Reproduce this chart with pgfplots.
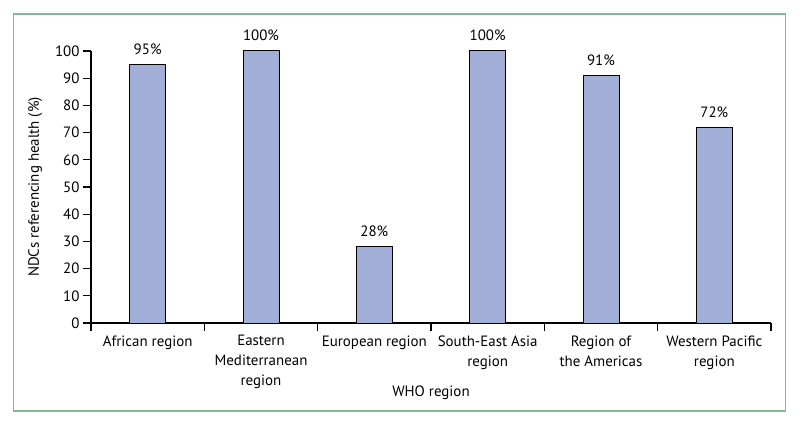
\documentclass[border=0pt]{standalone}
\usepackage{pgfplots}
\pgfplotsset{compat=1.18}
\usepackage{fontspec}
\setmainfont{PT Sans}

\definecolor{framegreen}{HTML}{80B898}
\definecolor{barblue}{HTML}{A0AED8}

\begin{document}
\begin{tikzpicture}[x=1bp,y=1bp]
\path (0,0) rectangle (800,426);
\draw[framegreen, line width=1.5bp] (13.5,15) rectangle (785.5,412);
\begin{axis}[
    at={(91bp,103bp)}, anchor=south west,
    scale only axis,
    width=680bp, height=272bp,
    xmin=0, xmax=6, ymin=0, ymax=100,
    axis x line=bottom, axis y line=left,
    axis line style={-, line width=1.2bp, black},
    clip=false,
    ytick={0,10,...,100},
    xtick={0,1,...,6},
    x tick label as interval,
    tick style={line width=1.2bp, black},
    major tick length=8bp,
    tick align=outside,
    xticklabels={African region,Eastern\\Mediterranean\\region,European region,South-East Asia\\region,Region of\\the Americas,Western Pacific\\region},
    tick label style={font=\fontsize{15}{20}\selectfont},
    xticklabel style={align=center, yshift=-1bp},
    /pgf/number format/assume math mode=true,
    label style={font=\fontsize{15}{20}\selectfont},
    ylabel={NDCs referencing health (\%)},
    ylabel style={at={(axis description cs:-0.082,0.5)}, anchor=center},
    xlabel={WHO region},
    xlabel style={at={(axis description cs:0.5,-0.257)}, anchor=center},
    nodes near coords={\pgfmathprintnumber{\pgfplotspointmeta}\%},
    nodes near coords style={font=\fontsize{15}{18}\selectfont, anchor=south, yshift=6bp},
]
\addplot[ybar, bar width=36bp, fill=barblue, draw=black, line width=1bp] coordinates {
(0.5,95)
(1.5,100)
(2.5,28)
(3.5,100)
(4.5,91)
(5.5,72)
};
\end{axis}
\end{tikzpicture}
\end{document}
